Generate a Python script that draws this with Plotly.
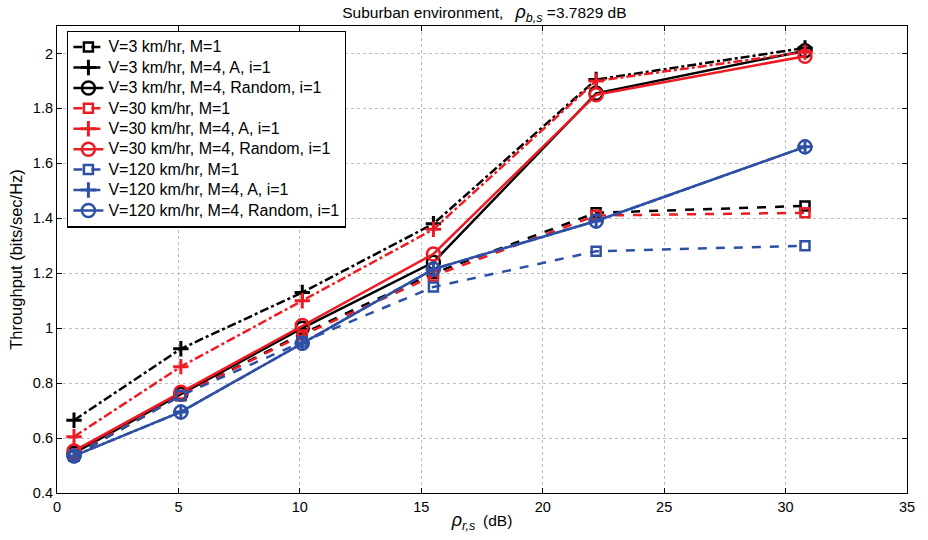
import plotly.graph_objects as go

snr = [0.7, 5.1, 10.1, 15.5, 22.2, 30.8]

v3_m1 = [0.535, 0.755, 0.98, 1.20, 1.42, 1.445]
v3_a = [0.665, 0.925, 1.13, 1.38, 1.905, 2.02]
v3_rand = [0.545, 0.76, 1.00, 1.24, 1.855, 2.01]
v30_m1 = [0.54, 0.755, 0.975, 1.19, 1.41, 1.42]
v30_a = [0.605, 0.86, 1.10, 1.36, 1.90, 2.005]
v30_rand = [0.553, 0.767, 1.01, 1.27, 1.85, 1.99]
v120_m1 = [0.535, 0.755, 0.95, 1.15, 1.28, 1.30]
v120_a = [0.535, 0.695, 0.945, 1.215, 1.39, 1.66]
v120_rand = [0.535, 0.695, 0.945, 1.215, 1.39, 1.66]

names = [
    "V=3 km/hr, M=1", "V=3 km/hr, M=4, A, i=1", "V=3 km/hr, M=4, Random, i=1",
    "V=30 km/hr, M=1", "V=30 km/hr, M=4, A, i=1", "V=30 km/hr, M=4, Random, i=1",
    "V=120 km/hr, M=1", "V=120 km/hr, M=4, A, i=1", "V=120 km/hr, M=4, Random, i=1",
]
series = [v3_m1, v3_a, v3_rand, v30_m1, v30_a, v30_rand, v120_m1, v120_a, v120_rand]

BLACK = "#000000"
RED = "#ED1C24"
BLUE = "#2E50A4"
colors = [BLACK] * 3 + [RED] * 3 + [BLUE] * 3
dashes = ["dash", "dashdot", "solid"] * 3
symbols = ["square-open", "cross-thin-open", "circle-open"] * 3
msizes = [9, 11, 13] * 3
mwidths = [2.5, 3, 2.5] * 3

fig = go.Figure()
for name, ys, c, d, s, ms, mw in zip(names, series, colors, dashes, symbols, msizes, mwidths):
    fig.add_trace(go.Scatter(
        x=snr, y=ys, name='<span style="font-size:16px">' + name + "</span>",
        mode="lines+markers",
        line=dict(color=c, width=2.5, dash=d),
        marker=dict(symbol=s, size=ms, color=c, line=dict(color=c, width=mw)),
    ))

axis_common = dict(
    showline=True, linecolor="black", linewidth=1.2, mirror="allticks",
    ticks="inside", ticklen=5, tickcolor="black",
    showgrid=True, gridcolor="#bdbdbd", griddash="dot", gridwidth=1,
    zeroline=False, tickfont=dict(size=14.5, color="black"),
)

fig.update_layout(
    width=928, height=540,
    margin=dict(l=57, r=21, t=26, b=47),
    paper_bgcolor="white", plot_bgcolor="white",
    font=dict(family="Liberation Sans, Arial, sans-serif", color="black"),
    title=dict(
        text=("Suburban environment,\u2002 "
              '<span style="font-size:18px"><i>ρ</i><sub><i>b,s</i></sub></span> =3.7829 dB'),
        x=0.522, xanchor="center", y=0.977, yanchor="middle", font=dict(size=15.5),
    ),
    xaxis=dict(range=[0, 35], dtick=5, tick0=0,
               title=dict(text='<span style="font-size:18px"><i>ρ</i><sub><i>r,s</i></sub></span>\u2002(dB)',
                          standoff=1, font=dict(size=15.5)),
               **axis_common),
    yaxis=dict(range=[0.4, 2.1], tickvals=[0.4, 0.6, 0.8, 1.0, 1.2, 1.4, 1.6, 1.8, 2.0],
               title=dict(text="Throughput (bits/sec/Hz)", standoff=6, font=dict(size=16.5)),
               **axis_common),
    legend=dict(
        x=0.012, y=0.99, xanchor="left", yanchor="top",
        bgcolor="white", bordercolor="black", borderwidth=1.2,
        font=dict(size=13.4), tracegroupgap=0, itemwidth=30,
    ),
)

fig.write_html("out.html")
